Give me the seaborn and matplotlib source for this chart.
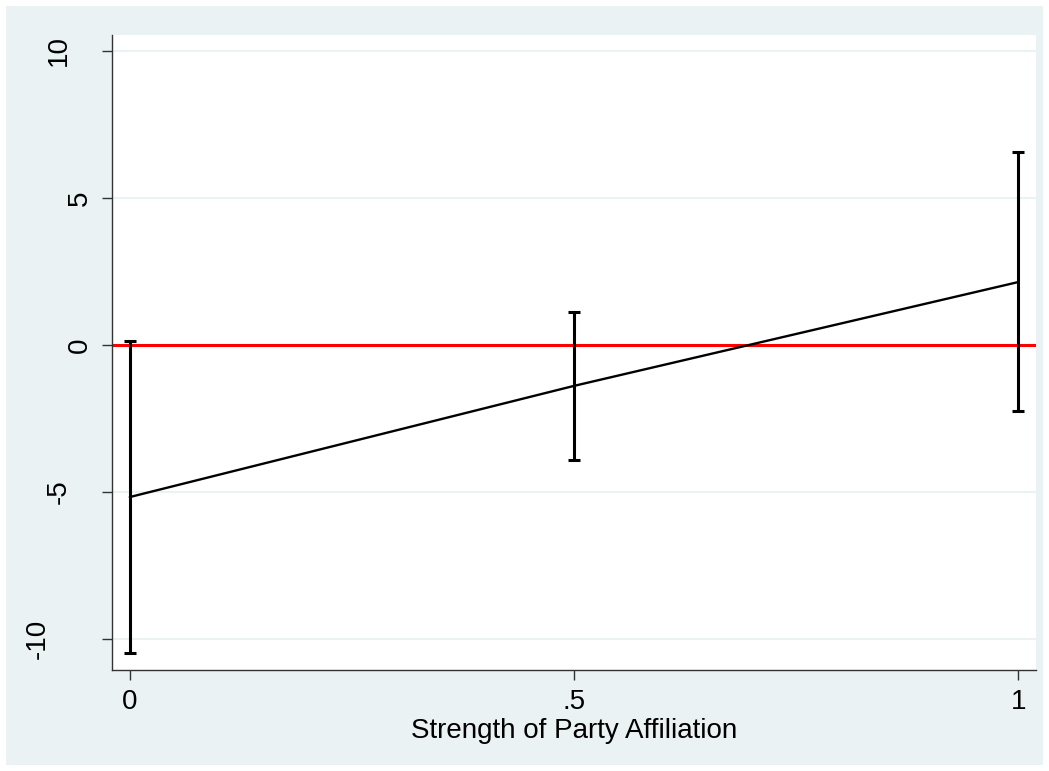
import matplotlib
matplotlib.use("Agg")
import matplotlib.pyplot as plt
import matplotlib.transforms as mtransforms
import seaborn as sns
import pandas as pd
from matplotlib.patches import Rectangle

# Data
strength = [0.0, 0.5, 1.0]
effect = [-5.17, -1.39, 2.14]
ci_low = [-10.48, -3.91, -2.24]
ci_high = [0.14, 1.12, 6.56]
x_ticks = [0, 0.5, 1]
x_ticklabels = ["0", ".5", "1"]
y_ticks = [-10, -5, 0, 5, 10]
y_ticklabels = ["-10", "-5", "0", "5", "10"]

sns.set_theme(style="white")
plt.rcParams['font.family'] = ['Liberation Sans', 'DejaVu Sans']

W, H = 1049, 771
bg = "#EAF2F3"
fs = 20
fig = plt.figure(figsize=(W / 100, H / 100), dpi=100, facecolor="white")
fig.patches.append(Rectangle((6 / W, 6 / H), 1 - 12 / W, 1 - 12 / H,
                             transform=fig.transFigure, facecolor=bg,
                             edgecolor="none", zorder=-10))
ax = fig.add_axes([112 / W, 1 - 670 / H, (1036 - 112) / W, (670 - 35) / H])
ax.set_facecolor("white")

df = pd.DataFrame({"x": strength, "y": effect, "lo": ci_low, "hi": ci_high})

for yt in y_ticks:
    ax.axhline(yt, color=bg, lw=1.5, zorder=0)

ax.axhline(0, color="#FF0000", lw=2.2, zorder=2)

ax.errorbar(df["x"], df["y"], yerr=[df["y"] - df["lo"], df["hi"] - df["y"]],
            fmt="none", ecolor="black", elinewidth=2.2, capsize=4.5,
            capthick=2.2, zorder=3)
sns.lineplot(data=df, x="x", y="y", ax=ax, color="black", lw=1.7,
             zorder=4, legend=False)

ax.set_xlim(-0.02, 1.02)
ax.set_ylim(-11.05, 10.54)
ax.set_xticks(x_ticks)
ax.set_xticklabels(x_ticklabels, fontsize=fs, color="black")
ax.set_yticks(y_ticks)
ax.set_yticklabels([""] * len(y_ticks))
ax.set_xlabel("Strength of Party Affiliation", fontsize=fs, labelpad=2,
              color="black")
ax.set_ylabel("")

# Stata-style rotated y tick labels (offset grows with label length)
trans = mtransforms.blended_transform_factory(fig.transFigure, ax.transData)
for yt, lab in zip(y_ticks, y_ticklabels):
    cx = (101 - 21 * len(lab)) / W
    ax.text(cx, yt, lab, transform=trans, rotation=90, ha="center",
            va="center", fontsize=fs, color="black")

for s in ["top", "right"]:
    ax.spines[s].set_visible(False)
for s in ["left", "bottom"]:
    ax.spines[s].set_color("#333333")
    ax.spines[s].set_linewidth(1.0)
ax.tick_params(axis="both", which="both", length=7.5, width=1.0,
               color="#333333", direction="out", pad=6,
               left=True, bottom=True)

fig.savefig("out.png", dpi=100, facecolor="white")
